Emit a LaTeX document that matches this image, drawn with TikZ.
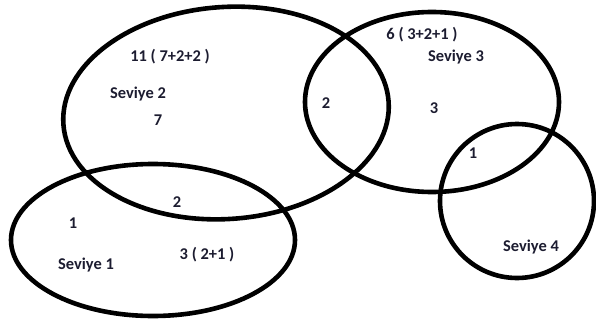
\documentclass[tikz,border=0pt]{standalone}
\usepackage{fontspec}
\setmainfont{Carlito}
\definecolor{schrift}{RGB}{28,28,48}
\tikzset{
  zahl/.style={text=schrift, font=\fontsize{16.5}{18}\selectfont\bfseries, inner sep=0pt},
  menge/.style={line width=4.6bp, draw=black}
}
\begin{document}
\begin{tikzpicture}[x=1bp, y=1bp, line join=round]
  \useasboundingbox (0,0) rectangle (596,323);
  % Mengen (Ellipsen)
  \draw[menge, rotate around={4:(226,210)}] (226,210) ellipse (163 and 106);
  \draw[menge] (432,221) ellipse (127 and 90);
  \draw[menge] (153,83) ellipse (142 and 76);
  \draw[menge] (517,122) ellipse (77 and 77);
  % Seviye 2
  \node[zahl] (summe2) at (170,266) {11 ( 7+2+2 )};
  \node[zahl] (name2) at (138,229) {Seviye 2};
  \node[zahl] (wert2) at (158,203) {7};
  % Seviye 3
  \node[zahl] (summe3) at (422,288) {6 ( 3+2+1 )};
  \node[zahl] (name3) at (456,266) {Seviye 3};
  \node[zahl] (wert3) at (434,215) {3};
  \node[zahl] (schnitt23) at (326,220) {2};
  \node[zahl] (schnitt34) at (473,170) {1};
  % Seviye 1
  \node[zahl] (schnitt12) at (177,121) {2};
  \node[zahl] (wert1) at (73,100) {1};
  \node[zahl] (name1) at (86,58) {Seviye 1};
  \node[zahl] (summe1) at (207,68) {3 ( 2+1 )};
  % Seviye 4
  \node[zahl] (name4) at (531,76) {Seviye 4};
\end{tikzpicture}
\end{document}
